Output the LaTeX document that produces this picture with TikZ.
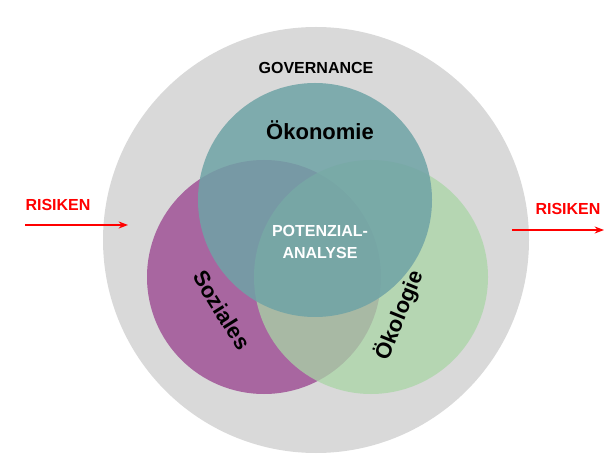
\documentclass[tikz,border=0pt]{standalone}
\usepackage{fontspec}
\setmainfont{Liberation Sans}
\usetikzlibrary{arrows.meta}
\definecolor{gov}{HTML}{D9D9D9}
\definecolor{oek}{HTML}{6FA3A6}
\definecolor{soz}{HTML}{A866A0}
\definecolor{oeko}{HTML}{A9D6A6}
\tikzset{lbl/.style={font=\bfseries},risk/.style={red,line width=2pt,-{Stealth[length=7pt]}}}
\begin{document}
\begin{tikzpicture}[x=0.75pt,y=-0.75pt]
\useasboundingbox (0,0) rectangle (610,466);
\fill[gov] (316,240) circle (213);
\fill[soz] (264,277) circle (117);
\fill[oeko,opacity=0.75] (371,277) circle (117);
\fill[oek,opacity=0.85] (315,200) circle (117);
\node[lbl,font=\bfseries\fontsize{12}{14}\selectfont] (g) at (316,68) {GOVERNANCE};
\node[lbl,font=\bfseries\fontsize{16.5}{19}\selectfont] (o) at (320,130) {Ökonomie};
\node[lbl,font=\bfseries\fontsize{16.5}{19}\selectfont,rotate=-58] (s) at (222,310) {Soziales};
\node[lbl,font=\bfseries\fontsize{16.5}{19}\selectfont,rotate=68] (e) at (399,315) {Ökologie};
\node[lbl,white,align=center,font=\bfseries\fontsize{12}{16}\selectfont] (p) at (320,242) {POTENZIAL-\\ANALYSE};
\node[lbl,red,font=\bfseries\fontsize{12}{14}\selectfont] (r1) at (58,205) {RISIKEN};
\node[lbl,red,font=\bfseries\fontsize{12}{14}\selectfont] (r2) at (568,209) {RISIKEN};
\coordinate (a1) at (25,225); \coordinate (b1) at (128,225);
\coordinate (a2) at (512,230); \coordinate (b2) at (604,230);
\draw[risk] (a1) -- (b1);
\draw[risk] (a2) -- (b2);
\end{tikzpicture}
\end{document}
